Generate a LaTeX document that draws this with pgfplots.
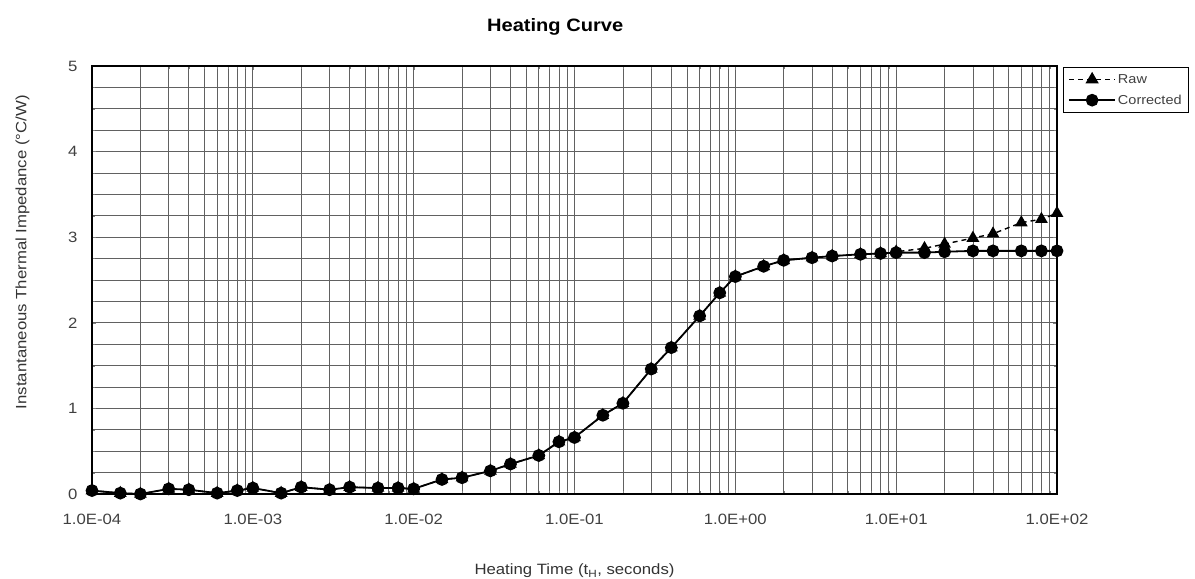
\documentclass[border=0pt]{standalone}
\usepackage{fontspec}
\setmainfont{Liberation Sans}[FakeStretch=1.12]
\usepackage{pgfplots}
\usepackage{pgfplotstable}
\pgfplotsset{compat=1.18}
\pgfplotstableread{
x     corr  raw
1e-4   0.04 0.04
1.5e-4 0.01 0.01
2e-4   0.00 0.00
3e-4   0.06 0.06
4e-4   0.05 0.05
6e-4   0.01 0.01
8e-4   0.04 0.04
1e-3   0.07 0.07
1.5e-3 0.01 0.01
2e-3   0.08 0.08
3e-3   0.05 0.05
4e-3   0.08 0.08
6e-3   0.07 0.07
8e-3   0.07 0.07
1e-2   0.06 0.06
1.5e-2 0.17 0.17
2e-2   0.19 0.19
3e-2   0.27 0.27
4e-2   0.35 0.35
6e-2   0.45 0.45
8e-2   0.61 0.61
1e-1   0.66 0.66
1.5e-1 0.92 0.92
2e-1   1.06 1.06
3e-1   1.46 1.46
4e-1   1.71 1.71
6e-1   2.08 2.08
8e-1   2.35 2.35
1      2.54 2.54
1.5    2.66 2.66
2      2.73 2.73
3      2.76 2.76
4      2.78 2.78
6      2.80 2.80
8      2.81 2.81
10     2.82 2.83
15     2.82 2.87
20     2.83 2.92
30     2.84 2.99
40     2.84 3.04
60     2.84 3.17
80     2.84 3.21
100    2.84 3.28
}\data
\begin{document}
\begin{tikzpicture}
\begin{axis}[
  name=ax,
  scale only axis, width=965bp, height=428bp,
  xmode=log, xmin=1e-4, xmax=1e2, ymin=0, ymax=5,
  xtick={1e-4,1e-3,1e-2,1e-1,1,10,100},
  xticklabels={1.0E-04,1.0E-03,1.0E-02,1.0E-01,1.0E+00,1.0E+01,1.0E+02},
  ytick={0,1,2,3,4,5}, minor y tick num=3,
  /pgf/number format/assume math mode=true,
  grid=both,
  major grid style={black!62, line width=0.75bp},
  minor grid style={black!62, line width=0.75bp},
  axis line style={black, line width=1.3bp},
  tick align=inside,
  ticklabel style={font=\fontsize{15}{17}\selectfont, text=black!75},
  xticklabel style={yshift=-17bp},
  yticklabel style={xshift=-11bp},
  title={Heating Curve},
  title style={at={(axis description cs:0.48,1.078)}, anchor=center, font=\bfseries\fontsize{18}{20}\selectfont},
  xlabel={Heating Time (t\textsubscript{H}, seconds)},
  xlabel style={at={(axis description cs:0.5,-0.18)}, anchor=center, font=\fontsize{15}{17}\selectfont, text=black!80},
  ylabel={Instantaneous Thermal Impedance (°C/W)},
  ylabel style={at={(axis description cs:-0.072,0.565)}, anchor=center, font=\fontsize{15}{17}\selectfont, text=black!80},
  legend style={at={(axis description cs:1.006,0.998)}, anchor=north west, draw=black, line width=1bp,
    font=\fontsize{13}{15}\selectfont, cells={anchor=west}, inner xsep=5bp, inner ysep=5bp, row sep=6bp, text=black!75},
  legend image code/.code={\draw[mark repeat=2,mark phase=2,#1,line width=1.7bp] plot coordinates {(0bp,0bp) (23bp,0bp) (46bp,0bp)};},
]
\addplot[black, line width=1.4bp, dash pattern=on 5bp off 4bp, mark=triangle*, mark size=6bp, mark options={solid}] table[x=x,y=raw]{\data};
\addlegendentry{Raw}
\addplot[black, line width=1.8bp, mark=*, mark size=5.5bp, mark options={solid}] table[x=x,y=corr]{\data};
\addlegendentry{Corrected}
\end{axis}
\pgfresetboundingbox
\path ([shift={(-92bp,-85bp)}]ax.south west) rectangle ([shift={(138bp,66bp)}]ax.north east);
\end{tikzpicture}
\end{document}
